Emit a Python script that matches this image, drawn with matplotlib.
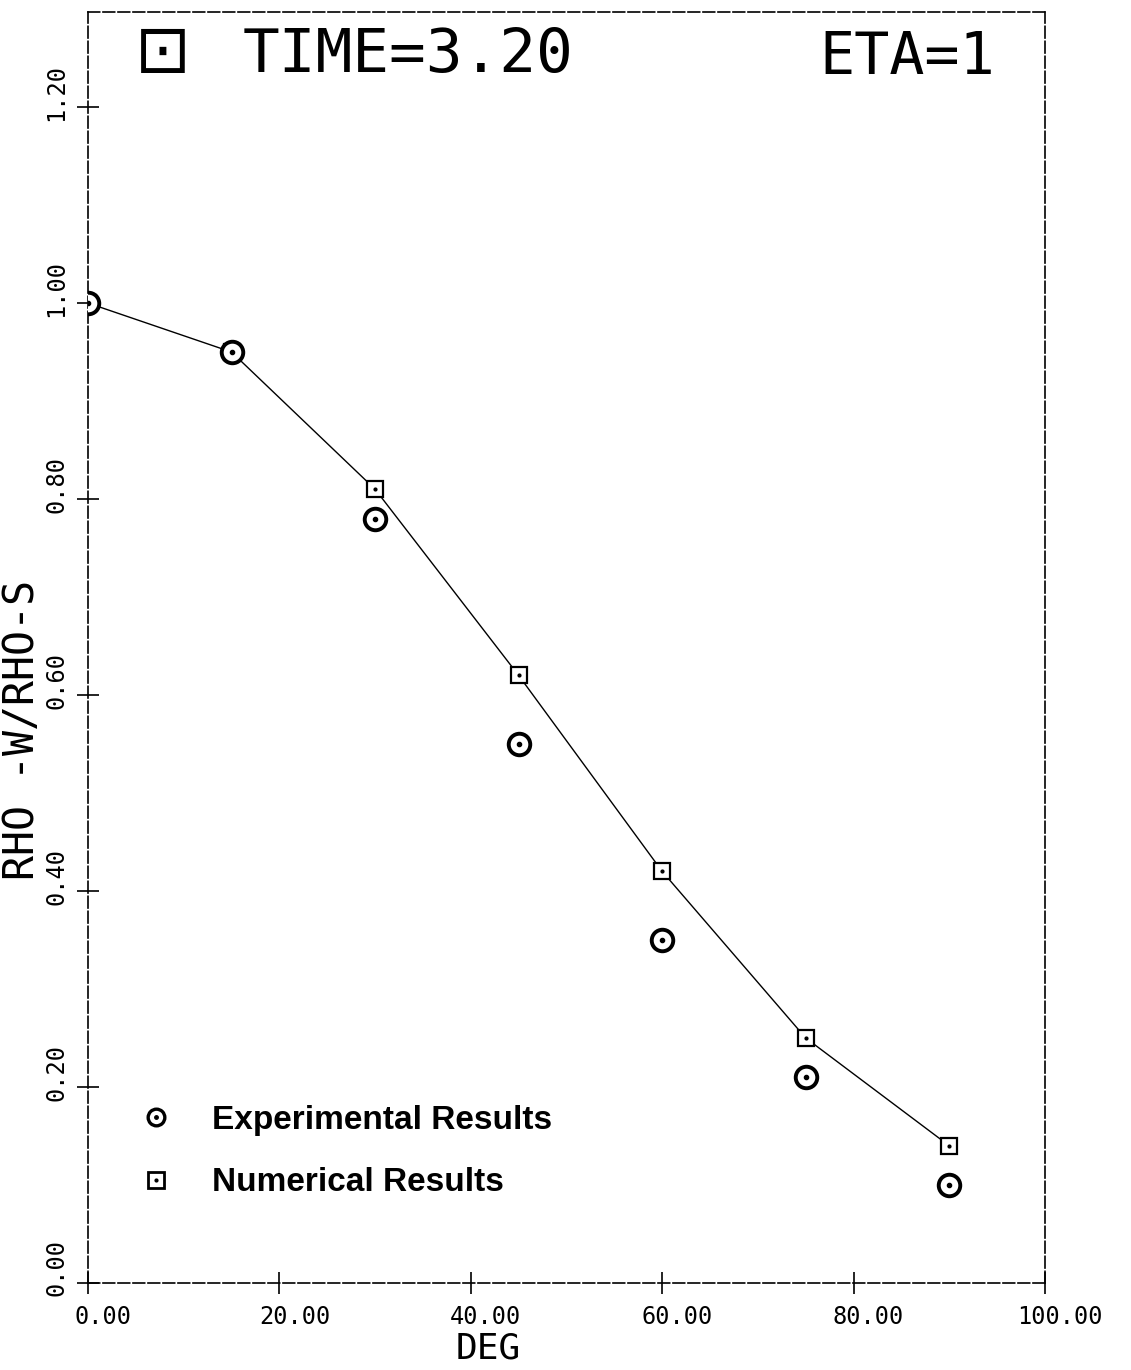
import numpy as np
import matplotlib
matplotlib.use("Agg")
import matplotlib.pyplot as plt
import matplotlib.transforms as mtransforms
from matplotlib.lines import Line2D

# wall density ratio vs. angle, t = 3.20, eta = 1
deg = np.array([0, 15, 30, 45, 60, 75, 90])
rho_num = np.array([1.00, 0.95, 0.81, 0.62, 0.42, 0.25, 0.14])
rho_exp = np.array([1.00, 0.95, 0.78, 0.55, 0.35, 0.21, 0.10])

xticks = [0, 20, 40, 60, 80, 100]
yticks = [0.0, 0.2, 0.4, 0.6, 0.8, 1.0, 1.2]

plotfont = "DejaVu Sans Mono"

fig = plt.figure(figsize=(11.31, 13.70), dpi=100)
ax = fig.add_axes([88/1131, 1 - 1283/1370, (1045 - 88)/1131, (1283 - 12)/1370])

# numerical results: joined squares
ax.plot(deg, rho_num, color="black", lw=1.0, zorder=2)
ax.plot(deg, rho_num, ls="none", marker="s", ms=12, mfc="white", mec="black",
        mew=1.6, zorder=3)
ax.plot(deg, rho_num, ls="none", marker=".", ms=4, color="black", zorder=4)

# experimental results: dotted circles
ax.plot(deg, rho_exp, ls="none", marker="o", ms=15.5, mfc="white", mec="black",
        mew=2.8, zorder=5)
ax.plot(deg, rho_exp, ls="none", marker=".", ms=6, color="black", zorder=6)

ax.set_xlim(0, 100)
ax.set_ylim(0, 1.297)
ax.set_xticks(xticks)
ax.set_yticks(yticks)
ax.set_xticklabels(["%.2f" % v for v in xticks], fontfamily=plotfont, fontsize=17)
ax.set_yticklabels(["%.2f" % v for v in yticks], fontfamily=plotfont, fontsize=17,
                   rotation=90, va="center")
ax.tick_params(direction="inout", length=16, width=1.2)
ax.tick_params(axis="x", pad=8)
ax.tick_params(axis="y", pad=6)

# plotter put the numbers a little past the tick
shift_x = mtransforms.ScaledTranslation(0.15, 0, fig.dpi_scale_trans)
shift_y = mtransforms.ScaledTranslation(0, 0.15, fig.dpi_scale_trans)
for lab in ax.get_xticklabels():
    lab.set_transform(lab.get_transform() + shift_x)
for lab in ax.get_yticklabels():
    lab.set_transform(lab.get_transform() + shift_y)

for sp in ax.spines.values():
    sp.set_linestyle((0, (7, 2)))
    sp.set_linewidth(1.2)

ax.set_xlabel("DEG", fontfamily=plotfont, fontsize=26)
ax.xaxis.set_label_coords(0.418, -0.038)
ax.set_ylabel("RHO -W/RHO-S", fontfamily=plotfont, fontsize=30)
ax.yaxis.set_label_coords(-0.047, 0.435)

# header inside the frame
ax.text(0.049, 0.994, "\u22a1", transform=ax.transAxes, fontsize=48,
        fontfamily="DejaVu Sans", va="top", ha="left")
ax.text(0.162, 0.989, "TIME=3.20", transform=ax.transAxes, fontsize=44,
        fontfamily=plotfont, va="top", ha="left")
ax.text(0.948, 0.987, "ETA=1", transform=ax.transAxes, fontsize=42,
        fontfamily=plotfont, va="top", ha="right")

handles = [
    (Line2D([], [], ls="none", marker="o", ms=12, mfc="white", mec="black", mew=2.4),
     Line2D([], [], ls="none", marker=".", ms=5, color="black")),
    (Line2D([], [], ls="none", marker="s", ms=11, mfc="white", mec="black", mew=2.0),
     Line2D([], [], ls="none", marker=".", ms=4, color="black")),
]
leg = ax.legend(handles, ["Experimental Results", "Numerical Results"],
                loc="lower left", bbox_to_anchor=(0.054, 0.0665), frameon=False,
                borderpad=0, borderaxespad=0, handlelength=1.0, handletextpad=1.18,
                labelspacing=0.95,
                prop={"family": "Liberation Sans", "weight": "bold", "size": 24})

fig.savefig("out.png", dpi=100, facecolor="white")
